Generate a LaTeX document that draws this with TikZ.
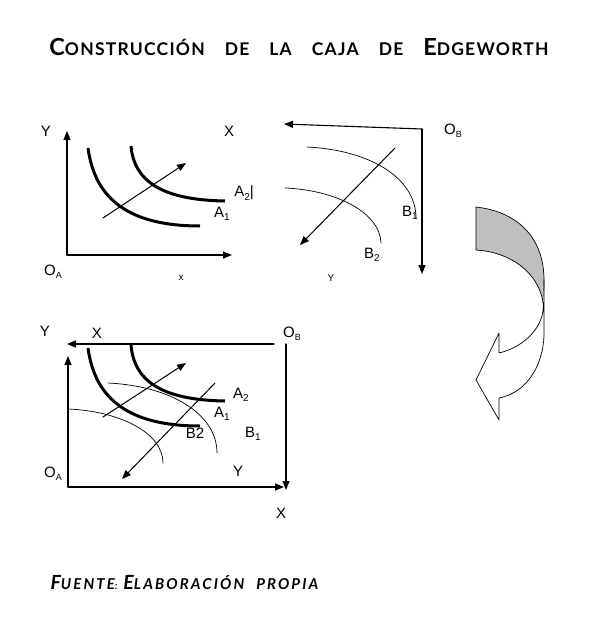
\documentclass[tikz,border=0pt]{standalone}
\usepackage{fontspec}
\setmainfont{Liberation Sans}
\newfontfamily\titlefont[LetterSpace=7]{Lato}
\newfontfamily\fuentefont[LetterSpace=14]{Lato}
\usetikzlibrary{arrows.meta}
% fake small caps for title and source line
\newcommand{\Tc}[1]{{\fontsize{23.5}{23.5}\selectfont #1}}
\newcommand{\Ts}[1]{{\fontsize{17.5}{17.5}\selectfont #1}}
\newcommand{\Fc}[1]{{\fontsize{19.5}{19.5}\selectfont #1}}
\newcommand{\Fs}[1]{{\fontsize{15}{15}\selectfont #1}}
% subscripts of the labels
\newcommand{\sub}[1]{\raisebox{-3.5pt}{\fontsize{10}{10}\selectfont #1}}
\newcommand{\osub}[1]{\raisebox{-3pt}{\fontsize{9}{9}\selectfont #1}}
\newcommand{\wsp}{\hspace{20pt}}
\begin{document}
\begin{tikzpicture}[x=1pt,y=-1pt,line join=round,line cap=round,>={Stealth[length=9pt,width=7pt,inset=0pt]},
  lbl/.style={font=\fontsize{15}{15}\selectfont},
  lblsmall/.style={font=\fontsize{10}{10}\selectfont},
  axis/.style={->,line width=1.1pt},
  indif/.style={line width=3pt,line cap=butt},
  contra/.style={line width=0.7pt},
  dir/.style={->,line width=1pt}]
\useasboundingbox (0,0) rectangle (600,634);
% title
\node[font=\titlefont\bfseries] (title) at (299,47) {\Tc{C}\Ts{ONSTRUCCIÓN}\wsp\Ts{DE}\wsp\Ts{LA}\wsp\Ts{CAJA}\wsp\Ts{DE}\wsp\Tc{E}\Ts{DGEWORTH}};
% consumer A
\coordinate (oa1) at (67,255);
\coordinate (ya1) at (67,131);
\coordinate (xa1) at (232,255);
\draw[axis] (oa1) -- (ya1);
\draw[axis] (oa1) -- (xa1);
\draw[indif] (88,148) .. controls (95,200) and (130,226) .. (200,226);
\draw[indif] (131,146) .. controls (134,180) and (160,200) .. (225,201);
\coordinate (a1s) at (103,218);
\coordinate (a1e) at (186,163);
\draw[dir] (a1s) -- (a1e);
\node[lbl] (Y1) at (46,131) {Y};
\node[lbl] (X1) at (229,131) {X};
\node[lbl] (OA1) at (53,272) {O\osub{A}};
\node[lblsmall] (x1) at (181,278) {x};
\node[lbl] (A2a) at (244,193) {A\sub{2}|};
\node[lbl] (A1a) at (222,214) {A\sub{1}};
% consumer B
\coordinate (ob1) at (422,129);
\coordinate (xb1) at (284,124);
\coordinate (yb1) at (422,274);
\draw[axis] (ob1) -- (xb1);
\draw[axis] (ob1) -- (yb1);
\draw[contra] (307,147) .. controls (370,150) and (416,178) .. (416,218);
\draw[contra] (285,188) .. controls (335,190) and (380,212) .. (381,243);
\coordinate (b1s) at (395,148);
\coordinate (b1e) at (300,245);
\draw[dir] (b1s) -- (b1e);
\node[lbl] (OB1) at (453,131) {O\osub{B}};
\node[lbl] (B1a) at (410,213) {B\sub{1}};
\node[lbl] (B2a) at (372,255) {B\sub{2}};
\node[lblsmall] (y1) at (331,278) {Y};
% turning arrow
\filldraw[fill=black!25,line width=0.7pt] (476,207) -- (476,250) .. controls (510,252) and (538,272) .. (543,302)
  .. controls (544,290) and (544,284) .. (544,280) .. controls (544,240) and (520,212) .. (476,207) -- cycle;
\filldraw[fill=white,line width=0.7pt] (543,302) .. controls (546,325) and (525,347) .. (499,353) -- (499,333) -- (476,380)
  -- (499,420) -- (499,398) .. controls (530,392) and (545,360) .. (544,330) -- (544,280);
% the box
\coordinate (oa2) at (68,487);
\coordinate (ya2) at (68,356);
\coordinate (xa2) at (284,487);
\coordinate (ob2) at (274,344);
\coordinate (xb2) at (67,344);
\coordinate (ob2v) at (286,344);
\coordinate (yb2) at (286,490);
\draw[axis] (oa2) -- (ya2);
\draw[axis] (oa2) -- (xa2);
\draw[axis] (ob2) -- (xb2);
\draw[axis] (ob2v) -- (yb2);
\draw[indif] (88,348) .. controls (95,400) and (130,426) .. (200,426);
\draw[indif] (131,345) .. controls (134,380) and (160,400) .. (225,401);
\draw[contra] (108,383) .. controls (171,386) and (217,414) .. (217,453);
\draw[contra] (68,409) .. controls (118,411) and (163,432) .. (163,463);
\coordinate (a2s) at (103,417);
\coordinate (a2e) at (186,363);
\coordinate (b2s) at (215,383);
\coordinate (b2e) at (122,479);
\draw[dir] (a2s) -- (a2e);
\draw[dir] (b2s) -- (b2e);
\node[lbl] (Y2) at (45,331) {Y};
\node[lbl] (X2) at (97,333) {X};
\node[lbl] (OB2) at (292,334) {O\osub{B}};
\node[lbl] (OA2) at (53,474) {O\osub{A}};
\node[lbl] (Y3) at (238,471) {Y};
\node[lbl] (X3) at (281,513) {X};
\node[lbl] (A2b) at (241,395) {A\sub{2}};
\node[lbl] (A1b) at (222,414) {A\sub{1}};
\node[lbl] (B2b) at (195,433) {B2};
\node[lbl] (B1b) at (253,434) {B\sub{1}};
% source
\node[font=\fuentefont\bfseries\itshape,anchor=west] (fuente) at (47,583) {\Fc{F}\Fs{UENTE}:\hspace{6pt}\Fc{E}\Fs{LABORACIÓN}\hspace{12pt}\Fs{PROPIA}};
\end{tikzpicture}
\end{document}
